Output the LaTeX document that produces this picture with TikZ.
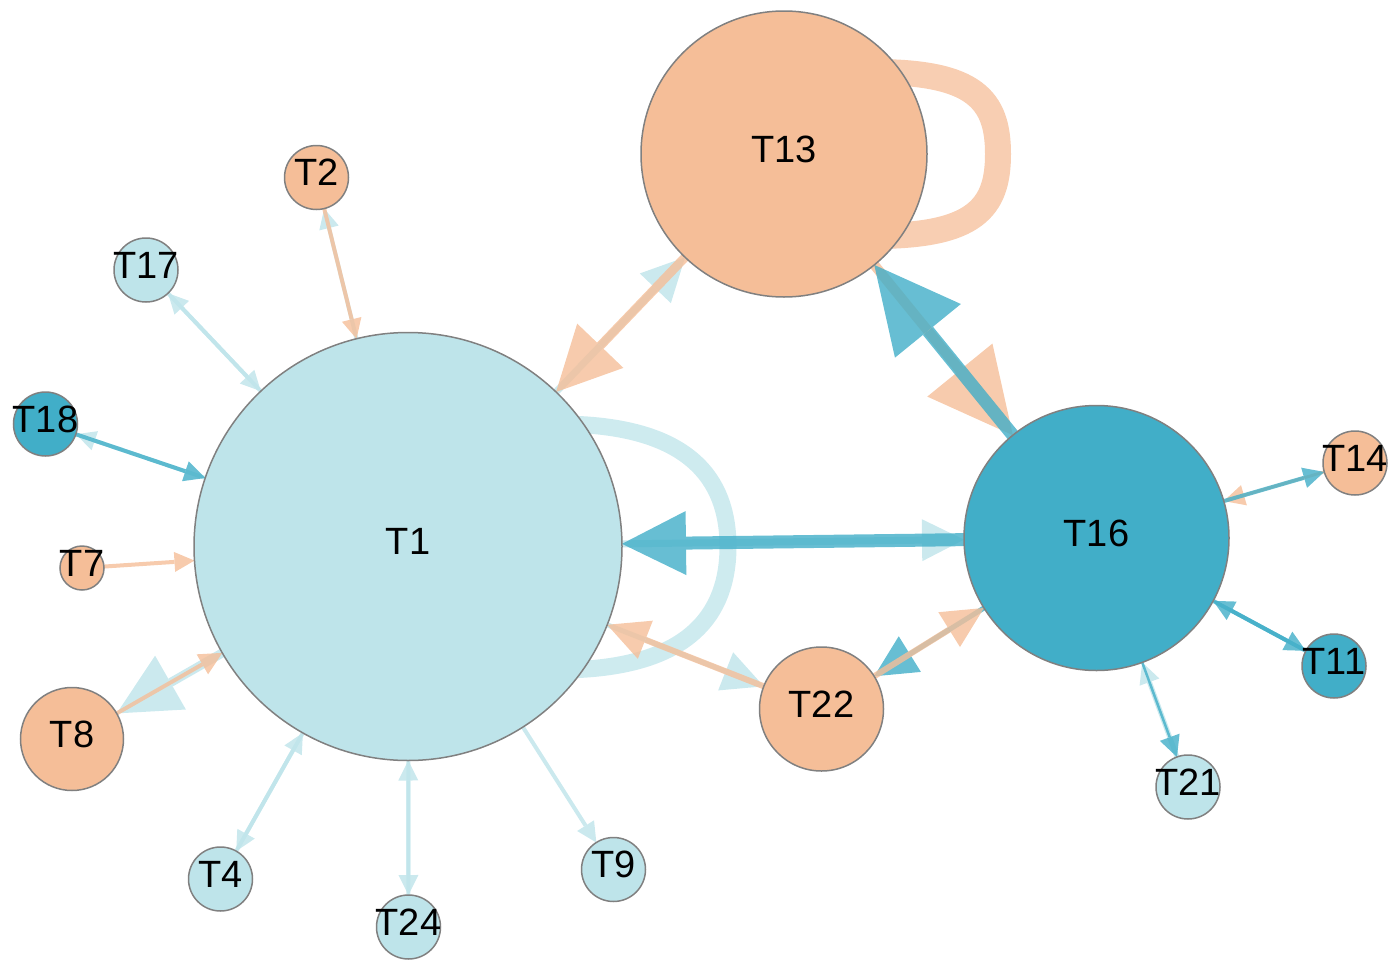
\documentclass[tikz,border=0pt]{standalone}
\usepackage{fontspec}
\setmainfont{Liberation Sans}
\usetikzlibrary{arrows.meta}
\pgfdeclarelayer{background}
\pgfsetlayers{background,main}
\definecolor{cLB}{RGB}{190,228,234}
\definecolor{cOR}{RGB}{245,190,152}
\definecolor{cDB}{RGB}{65,174,200}
\definecolor{cBorder}{RGB}{128,128,128}
\tikzset{
  vtx/.style={circle, draw=cBorder, line width=1.5pt, inner sep=0pt, outer sep=0pt, minimum size=#1},
  lbl/.style={font=\fontsize{38pt}{40pt}\selectfont, text=black, inner sep=0pt, yshift=5pt},
  eLB/.style={draw=cLB, fill=cLB},
  eOR/.style={draw=cOR, fill=cOR},
  eDB/.style={draw=cDB, fill=cDB},
  hd/.style={-{Triangle[length=#1,width=#1,line width=0pt]}},
}
\newcommand{\myedge}[5]{\begin{scope}[transparency group, opacity=0.8]\draw[#1, line width=#2pt, hd=#3pt] (#4) -- (#5);\end{scope}}
\begin{document}
\begin{tikzpicture}[x=1pt,y=-1pt]
\useasboundingbox (0,0) rectangle (1395,961);
% nodes
\node[vtx=428pt, fill=cLB, label={[lbl]center:T1}] (T1) at (408,546.5) {};
\node[vtx=286pt, fill=cOR, label={[lbl]center:T13}] (T13) at (784,154) {};
\node[vtx=265pt, fill=cDB, label={[lbl]center:T16}] (T16) at (1096.5,538) {};
\node[vtx=124pt, fill=cOR, label={[lbl]center:T22}] (T22) at (821.5,709) {};
\node[vtx=103pt, fill=cOR, label={[lbl]center:T8}] (T8) at (72,739) {};
\node[vtx=64pt, fill=cOR, label={[lbl]center:T2}] (T2) at (316.5,177.5) {};
\node[vtx=64pt, fill=cLB, label={[lbl]center:T17}] (T17) at (146,270) {};
\node[vtx=64pt, fill=cDB, label={[lbl]center:T18}] (T18) at (45.5,424) {};
\node[vtx=44pt, fill=cOR, label={[lbl]center:T7}] (T7) at (82,568) {};
\node[vtx=64pt, fill=cLB, label={[lbl]center:T4}] (T4) at (220.5,879) {};
\node[vtx=64pt, fill=cLB, label={[lbl]center:T24}] (T24) at (408.5,927) {};
\node[vtx=64pt, fill=cLB, label={[lbl]center:T9}] (T9) at (613.5,869.5) {};
\node[vtx=64pt, fill=cOR, label={[lbl]center:T14}] (T14) at (1355,463) {};
\node[vtx=64pt, fill=cDB, label={[lbl]center:T11}] (T11) at (1334,666) {};
\node[vtx=64pt, fill=cLB, label={[lbl]center:T21}] (T21) at (1188,787) {};

\begin{pgfonlayer}{background}
% loops
\draw[draw=cLB, line width=17pt, opacity=0.75] ([shift={(150,-122.5)}]T1.center) .. controls ([shift={(282,-122.5)}]T1.center) and ([shift={(320,-67)}]T1.center) .. ([shift={(320,0)}]T1.center) .. controls ([shift={(320,67)}]T1.center) and ([shift={(282,123.5)}]T1.center) .. ([shift={(150,123.5)}]T1.center);
\draw[draw=cOR, line width=26pt, opacity=0.75] ([shift={(90,-82)}]T13.center) .. controls ([shift={(191,-82)}]T13.center) and ([shift={(214,-54)}]T13.center) .. ([shift={(214,0)}]T13.center) .. controls ([shift={(214,54)}]T13.center) and ([shift={(191,82)}]T13.center) .. ([shift={(90,82)}]T13.center);

% big edges
\myedge{eLB}{7}{43}{T1}{T13}
\myedge{eOR}{9}{64}{T13}{T1}
\myedge{eOR}{10}{84}{T13}{T16}
\myedge{eDB}{13}{85}{T16}{T13}
\myedge{eLB}{7}{42}{T1}{T16}
\myedge{eDB}{13}{64}{T16}{T1}
\myedge{eLB}{5}{41}{T1}{T22}
\myedge{eOR}{6}{41}{T22}{T1}
\myedge{eDB}{5}{42}{T16}{T22}
\myedge{eOR}{6}{41}{T22}{T16}
\myedge{eLB}{9}{62}{T1}{T8}
\myedge{eOR}{4}{23}{T8}{T1}

% small edges
\myedge{eLB}{4}{20}{T1}{T18}
\myedge{eDB}{4}{21}{T18}{T1}
\myedge{eOR}{4}{20}{T7}{T1}
\myedge{eLB}{4}{20}{T1}{T17}
\myedge{eLB}{4}{20}{T17}{T1}
\myedge{eLB}{4}{20}{T1}{T2}
\myedge{eOR}{4}{20}{T2}{T1}
\myedge{eLB}{4}{20}{T1}{T4}
\myedge{eLB}{4}{20}{T4}{T1}
\myedge{eLB}{4}{20}{T1}{T24}
\myedge{eLB}{4}{20}{T24}{T1}
\myedge{eLB}{4}{20}{T1}{T9}
\myedge{eOR}{3}{21}{T14}{T16}
\myedge{eDB}{4}{21}{T16}{T14}
\myedge{eDB}{4}{21}{T11}{T16}
\myedge{eDB}{4}{21}{T16}{T11}
\myedge{eLB}{5}{21}{T21}{T16}
\myedge{eDB}{2.5}{21}{T16}{T21}
\end{pgfonlayer}
\end{tikzpicture}
\end{document}
